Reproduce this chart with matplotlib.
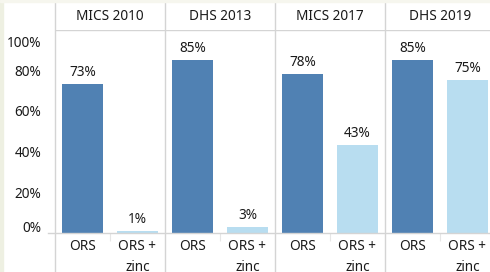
import matplotlib.pyplot as plt
from matplotlib.patches import Rectangle
from matplotlib.transforms import ScaledTranslation

surveys = ["MICS 2010", "DHS 2013", "MICS 2017", "DHS 2019"]
categories = ["ORS", "ORS +\nzinc"]
ors = [73, 85, 78, 85]
ors_zinc = [1, 3, 43, 75]
yticks = [0, 20, 40, 60, 80, 100]

dark = "#5081b3"
light = "#b8ddf0"
grid = "#d4d4d4"
txt = "#1a1a1a"
fs = 9.8

plt.rcParams["font.family"] = ["Noto Sans", "DejaVu Sans"]

fig = plt.figure(figsize=(4.9, 2.72), dpi=100)
ax = fig.add_axes([55 / 490, 39 / 272, 440 / 490, 203.5 / 272])

# pale strips at the left and top edge
fig.patches.append(Rectangle((0, 0), 3 / 490, 1, transform=fig.transFigure,
                             color="#eef0e2", zorder=0))
fig.patches.append(Rectangle((0, 1 - 2 / 272), 1, 2 / 272, transform=fig.transFigure,
                             color="#f6f6ee", zorder=0))

for i, s in enumerate(surveys):
    x0 = 2 * i
    vals = [ors[i], ors_zinc[i]]
    cols = [dark, light]
    for j, v in enumerate(vals):
        ax.bar(x0 + j + 0.5, v, width=0.75, color=cols[j], zorder=2)
        ax.text(x0 + j + 0.5, v + 2, f"{v}%", ha="center", va="bottom",
                fontsize=fs, color=txt)
        ax.text(x0 + j + 0.5, -0.03, categories[j], transform=ax.get_xaxis_transform(),
                ha="center", va="top", fontsize=fs, color=txt, linespacing=1.5)
    ax.text(x0 + 1, 1.066, s, transform=ax.get_xaxis_transform(), ha="center",
            va="center", fontsize=fs, fontweight="bold", color=txt)

# panel dividers, running through header and label rows
for k in range(len(surveys) + 1):
    ax.axvline(2 * k, ymin=-0.2, ymax=1.16, color=grid, lw=1, clip_on=False, zorder=1)
ax.axhline(100, color=grid, lw=1, zorder=1)
ax.axhline(0, xmin=-0.016, xmax=1, color=grid, lw=1, clip_on=False, zorder=3)

ax.set_xlim(0, 2 * len(surveys))
ax.set_ylim(0, 100)
ax.set_xticks([1, 3, 5, 7])
ax.set_xticklabels([])
ax.tick_params(axis="x", length=6, color="#e6e6e6", direction="out")
ax.set_yticks(yticks)
ax.set_yticklabels([f"{t}%" for t in yticks], fontsize=fs, color=txt)
ax.tick_params(axis="y", length=0, pad=10)
for lbl, t in zip(ax.get_yticklabels(), yticks):
    dy = {0: 7, 100: -12}.get(t, 0)
    lbl.set_transform(lbl.get_transform() + ScaledTranslation(0, dy / 100, fig.dpi_scale_trans))
for sp in ax.spines.values():
    sp.set_visible(False)

fig.savefig("out.png", dpi=100)
